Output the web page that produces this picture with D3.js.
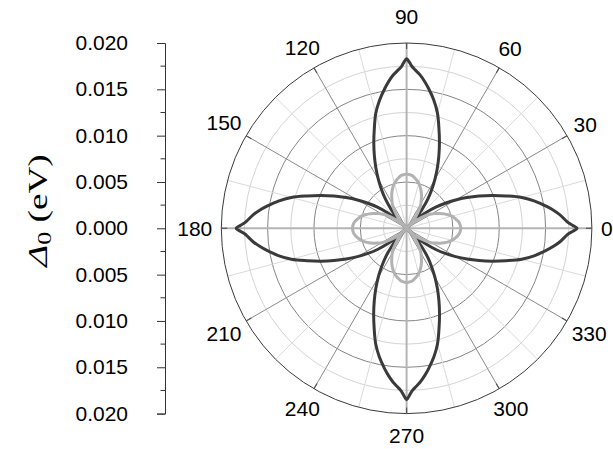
<!DOCTYPE html>
<html>
<head>
<meta charset="utf-8">
<script src="https://cdn.jsdelivr.net/npm/d3@7"></script>
<style>
  html, body { margin: 0; padding: 0; background: #fff; }
  svg { display: block; }
</style>
</head>
<body>
<svg id="chart" width="613" height="449"></svg>
<script>
// Polar angles (degrees, counter-clockwise from the +x direction)
const angles = [
  0,1,2,3,5,7,9,12,15,18,21,24,27,30,33,36,39,42,45,48,51,54,57,60,63,66,69,72,75,78,81,83,85,87,88,89,
  90,91,92,93,95,97,99,102,105,108,111,114,117,120,123,126,129,132,135,138,141,144,147,150,153,156,159,162,165,168,171,173,175,177,178,179,
  180,181,182,183,185,187,189,192,195,198,201,204,207,210,213,216,219,222,225,228,231,234,237,240,243,246,249,252,255,258,261,263,265,267,268,269,
  270,271,272,273,275,277,279,282,285,288,291,294,297,300,303,306,309,312,315,318,321,324,327,330,333,336,339,342,345,348,351,353,355,357,358,359
];

// Gap magnitude, dark curve (eV)
const gapDark = [
  0.01840,0.01795,0.01745,0.01715,0.01662,0.01597,0.01525,0.01414,0.01287,0.01130,0.00989,0.00856,0.00731,0.00611,0.00497,0.00389,0.00270,0.00140,0.00000,
  0.00140,0.00270,0.00389,0.00497,0.00611,0.00731,0.00856,0.00989,0.01130,0.01287,0.01414,0.01525,0.01597,0.01662,0.01715,0.01745,0.01790,
  0.01830,0.01788,0.01740,0.01712,0.01660,0.01595,0.01522,0.01410,0.01285,0.01128,0.00988,0.00855,0.00730,0.00610,0.00496,0.00388,0.00270,0.00140,0.00000,
  0.00140,0.00270,0.00389,0.00497,0.00612,0.00732,0.00857,0.00990,0.01131,0.01288,0.01415,0.01526,0.01598,0.01663,0.01716,0.01746,0.01796,
  0.01840,0.01795,0.01746,0.01716,0.01663,0.01598,0.01526,0.01415,0.01288,0.01131,0.00990,0.00857,0.00732,0.00612,0.00497,0.00389,0.00270,0.00140,0.00000,
  0.00140,0.00270,0.00390,0.00498,0.00613,0.00733,0.00858,0.00992,0.01133,0.01290,0.01418,0.01530,0.01602,0.01668,0.01722,0.01752,0.01802,
  0.01850,0.01802,0.01752,0.01722,0.01668,0.01602,0.01530,0.01418,0.01290,0.01133,0.00992,0.00858,0.00733,0.00612,0.00497,0.00389,0.00270,0.00140,0.00000,
  0.00140,0.00270,0.00389,0.00497,0.00611,0.00731,0.00856,0.00989,0.01130,0.01287,0.01414,0.01525,0.01597,0.01662,0.01715,0.01745,0.01795
];

// Gap magnitude, light curve (eV)
const gapLight = [
  0.00585,0.00584,0.00582,0.00580,0.00575,0.00566,0.00552,0.00530,0.00505,0.00472,0.00435,0.00395,0.00350,0.00310,0.00260,0.00200,0.00140,0.00070,0.00000,
  0.00070,0.00140,0.00200,0.00260,0.00310,0.00350,0.00395,0.00435,0.00472,0.00505,0.00530,0.00552,0.00566,0.00575,0.00580,0.00582,0.00584,
  0.00585,0.00584,0.00582,0.00580,0.00575,0.00566,0.00552,0.00530,0.00505,0.00472,0.00435,0.00395,0.00350,0.00310,0.00260,0.00200,0.00140,0.00070,0.00000,
  0.00070,0.00140,0.00200,0.00260,0.00310,0.00350,0.00395,0.00435,0.00472,0.00505,0.00530,0.00552,0.00566,0.00575,0.00580,0.00582,0.00584,
  0.00585,0.00584,0.00582,0.00580,0.00575,0.00566,0.00552,0.00530,0.00505,0.00472,0.00435,0.00395,0.00350,0.00310,0.00260,0.00200,0.00140,0.00070,0.00000,
  0.00070,0.00140,0.00200,0.00260,0.00310,0.00350,0.00395,0.00435,0.00472,0.00505,0.00530,0.00552,0.00566,0.00575,0.00580,0.00582,0.00584,
  0.00585,0.00584,0.00582,0.00580,0.00575,0.00566,0.00552,0.00530,0.00505,0.00472,0.00435,0.00395,0.00350,0.00310,0.00260,0.00200,0.00140,0.00070,0.00000,
  0.00070,0.00140,0.00200,0.00260,0.00310,0.00350,0.00395,0.00435,0.00472,0.00505,0.00530,0.00552,0.00566,0.00575,0.00580,0.00582,0.00584
];

// Axis ticks
const radialTicks = [-0.020, -0.015, -0.010, -0.005, 0.000, 0.005, 0.010, 0.015, 0.020];
const radialMinorTicks = [-0.0175, -0.0125, -0.0075, -0.0025, 0.0025, 0.0075, 0.0125, 0.0175];
const ringValues = [0.0025, 0.005, 0.0075, 0.010, 0.0125, 0.015, 0.0175];
const angleTicks = [0, 30, 60, 90, 120, 150, 180, 210, 240, 270, 300, 330];
const angleMinorTicks = [15, 45, 75, 105, 135, 165, 195, 225, 255, 285, 315, 345];

const svg = d3.select("#chart");
const cx = 406.6, cy = 228.3, R = 185.3;
const FONT = "'Liberation Sans', Arial, sans-serif";

const r = d3.scaleLinear().domain([0, 0.02]).range([0, R]);
const rad = deg => deg * Math.PI / 180;

const plot = svg.append("g").attr("transform", `translate(${cx},${cy})`);

// Rings
plot.selectAll("circle.ring")
  .data(ringValues)
  .join("circle")
  .attr("class", "ring")
  .attr("r", d => r(d))
  .attr("fill", "none")
  .attr("stroke", d => Math.abs(d / 0.005 - Math.round(d / 0.005)) < 1e-6 ? "#858585" : "#d4d4d4")
  .attr("stroke-width", 1);

// Spokes
plot.selectAll("line.minor-spoke")
  .data(angleMinorTicks)
  .join("line")
  .attr("class", "minor-spoke")
  .attr("x1", 0).attr("y1", 0)
  .attr("x2", d => r(0.02) * Math.cos(rad(d)))
  .attr("y2", d => -r(0.02) * Math.sin(rad(d)))
  .attr("stroke", "#dadada").attr("stroke-width", 1);

plot.selectAll("line.major-spoke")
  .data(angleTicks.filter(a => a % 90 !== 0))
  .join("line")
  .attr("class", "major-spoke")
  .attr("x1", 0).attr("y1", 0)
  .attr("x2", d => r(0.02) * Math.cos(rad(d)))
  .attr("y2", d => -r(0.02) * Math.sin(rad(d)))
  .attr("stroke", "#8a8a8a").attr("stroke-width", 1);

// Principal axes (0–180 and 90–270)
plot.selectAll("line.axis-line")
  .data([0, 90])
  .join("line")
  .attr("class", "axis-line")
  .attr("x1", d => -r(0.02) * Math.cos(rad(d)))
  .attr("y1", d => r(0.02) * Math.sin(rad(d)))
  .attr("x2", d => r(0.02) * Math.cos(rad(d)))
  .attr("y2", d => -r(0.02) * Math.sin(rad(d)))
  .attr("stroke", "#b4b4b4").attr("stroke-width", 2);

// Outer boundary
plot.append("circle")
  .attr("r", r(0.02))
  .attr("fill", "none")
  .attr("stroke", "#3a3a3a")
  .attr("stroke-width", 1);

// Inward angular ticks
plot.selectAll("line.atick")
  .data(angleTicks)
  .join("line")
  .attr("class", "atick")
  .attr("x1", d => r(0.02) * Math.cos(rad(d)))
  .attr("y1", d => -r(0.02) * Math.sin(rad(d)))
  .attr("x2", d => (r(0.02) - 6) * Math.cos(rad(d)))
  .attr("y2", d => -(r(0.02) - 6) * Math.sin(rad(d)))
  .attr("stroke", "#555").attr("stroke-width", 1.2);

// Curves
const pts = vals => angles.map((a, i) => ({ a, v: vals[i] }));
const radial = d3.lineRadial()
  .angle(d => rad(90 - d.a))
  .radius(d => r(d.v))
  .curve(d3.curveCatmullRomClosed.alpha(0.5));

plot.append("path")
  .datum(pts(gapDark))
  .attr("d", radial)
  .attr("fill", "none")
  .attr("stroke", "#3a3a3a")
  .attr("stroke-width", 3)
  .attr("stroke-linejoin", "round");

plot.append("path")
  .datum(pts(gapLight))
  .attr("d", radial)
  .attr("fill", "none")
  .attr("stroke", "#b2b2b2")
  .attr("stroke-width", 3)
  .attr("stroke-linejoin", "round");

// Angle labels
const FS = 20, SX = 1.05;
const aLabels = plot.selectAll("g.alabel")
  .data(angleTicks)
  .join("g")
  .attr("class", "alabel");
aLabels.append("text")
  .attr("text-anchor", "middle")
  .attr("dy", "0.36em")
  .attr("font-family", FONT)
  .attr("font-size", FS)
  .attr("fill", "#000")
  .attr("transform", `scale(${SX},1)`)
  .text(d => d);
aLabels.each(function(d) {
  const t = d3.select(this).select("text").node();
  const w = t.getComputedTextLength() * SX;
  const c = Math.cos(rad(d)), s = Math.sin(rad(d));
  const off = 9 + Math.sqrt((w / 2 * c) ** 2 + (13 * s) ** 2) + (d === 90 ? 4.5 : 0);
  const rr = r(0.02) + off;
  d3.select(this).attr("transform", `translate(${rr * c},${-rr * s})`);
});

// Radial scale on the left
const y = d3.scaleLinear().domain([-0.02, 0.02]).range([cy + R, cy - R]);
const axisX = 165;
const axisG = svg.append("g").attr("transform", `translate(${axisX},0)`);
axisG.call(
  d3.axisLeft(y)
    .tickValues(radialTicks)
    .tickSize(8)
    .tickPadding(29)
    .tickFormat(d => d3.format(".3f")(Math.abs(d)))
);
axisG.select(".domain").attr("stroke", "#333").attr("stroke-width", 1);
axisG.selectAll(".tick line").attr("stroke", "#333");
axisG.selectAll(".tick text")
  .attr("font-family", FONT)
  .attr("font-size", FS)
  .attr("fill", "#000")
  .each(function() {
    const t = d3.select(this);
    const x = +t.attr("x");
    t.attr("x", x / SX).attr("transform", `scale(${SX},1)`);
  });
axisG.selectAll("line.minor")
  .data(radialMinorTicks)
  .join("line")
  .attr("class", "minor")
  .attr("x1", -4.5).attr("x2", 0)
  .attr("y1", d => y(d)).attr("y2", d => y(d))
  .attr("stroke", "#333");

// Axis title
const title = svg.append("g").attr("transform", "translate(47,210.5) rotate(-90)")
  .append("text")
  .attr("text-anchor", "middle")
  .attr("transform", "scale(1.38,1)")
  .attr("font-family", "'Liberation Serif', 'Times New Roman', serif")
  .attr("font-size", 27)
  .attr("fill", "#000");
title.append("tspan").attr("font-style", "italic").text("Δ");
title.append("tspan").attr("font-size", 19).attr("dy", 4).text("0");
title.append("tspan").attr("dy", -4).text(" (eV)");
</script>
</body>
</html>
